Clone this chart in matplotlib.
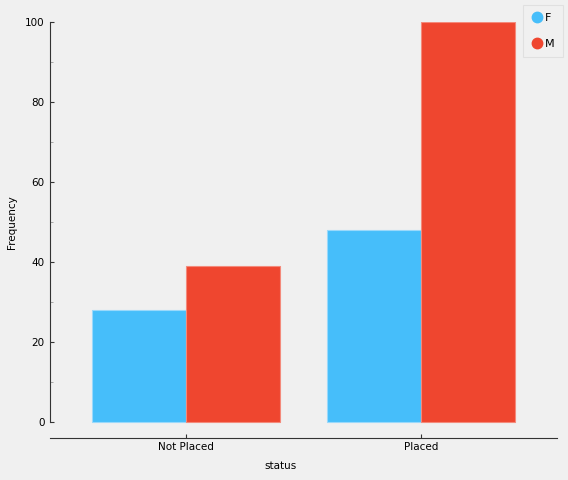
import numpy as np
import matplotlib.pyplot as plt
from matplotlib.lines import Line2D

categories = ['Not Placed', 'Placed']
freq_f = [28, 48]
freq_m = [39, 100]
series = ['F', 'M']
colors_ = ['#46befa', '#ef462f']
edges_ = ['#9ad9fb', '#f48a7b']

W, H = 568, 480
fig = plt.figure(figsize=(W / 100, H / 100), dpi=100, facecolor='#f0f0f0')
ax = fig.add_axes([50 / W, 1 - 438 / H, (557 - 50) / W, (438 - 22) / H])
ax.set_facecolor('#f0f0f0')

x = np.arange(len(categories))
bw = 0.4
ax.bar(x - bw / 2, freq_f, width=bw, color=colors_[0], edgecolor=edges_[0], linewidth=0.8)
ax.bar(x + bw / 2, freq_m, width=bw, color=colors_[1], edgecolor=edges_[1], linewidth=0.8)

ax.set_xlim(-0.579, 1.579)
ax.set_ylim(-4, 100)

for s in ['top', 'right']:
    ax.spines[s].set_visible(False)
ax.spines['left'].set_bounds(0, 100)
ax.spines['left'].set_color('#333333')
ax.spines['bottom'].set_color('#333333')

ax.set_yticks([0, 20, 40, 60, 80, 100])
ax.set_yticks([10, 30, 50, 70, 90], minor=True)
ax.tick_params(axis='y', which='major', direction='in', length=3, labelsize=7.5, pad=4, color='#333333')
ax.tick_params(axis='y', which='minor', direction='in', length=2, color='#999999')
ax.set_xticks(x)
ax.set_xticklabels(categories)
ax.tick_params(axis='x', direction='in', length=3, labelsize=7.5, pad=3, color='#333333')

ax.set_ylabel('Frequency', fontsize=7.5)
ax.yaxis.set_label_coords(-0.066, 0.519)
ax.set_xlabel('status', fontsize=7.5)
ax.xaxis.set_label_coords(0.455, -0.055)

handles = [Line2D([], [], marker='o', linestyle='none', markersize=7.5,
                  markerfacecolor=c, markeredgecolor=c) for c in colors_]
leg = ax.legend(handles, series, loc='upper right', bbox_to_anchor=(563 / W, 1 - 5 / H),
                bbox_transform=fig.transFigure, fontsize=8, frameon=True, fancybox=False,
                handletextpad=0.2, handlelength=1.0, borderpad=0.75, labelspacing=1.4,
                borderaxespad=0)
leg.get_frame().set_facecolor('#f0f0f0')
leg.get_frame().set_edgecolor('#dddddd')
leg.get_frame().set_linewidth(0.8)

fig.savefig('out.png', dpi=100, facecolor=fig.get_facecolor())
